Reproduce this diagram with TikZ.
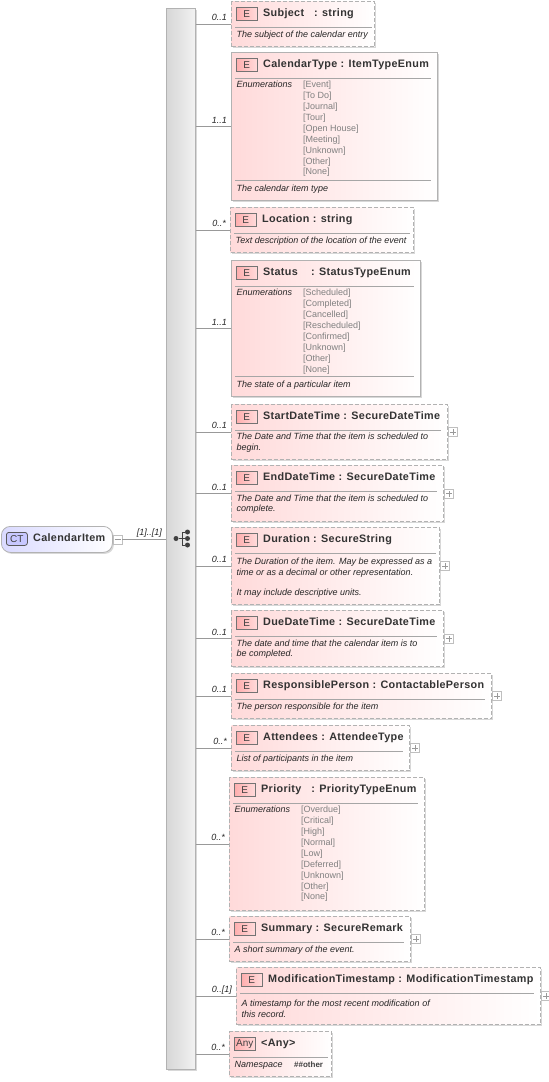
\documentclass[tikz,border=0pt]{standalone}
\usepackage{fontspec}
\setmainfont{Liberation Sans}
\newfontfamily\titlefont[LetterSpace=3]{Liberation Sans}
\usetikzlibrary{shadows}
\definecolor{elempink}{RGB}{255,218,218}
\definecolor{rootblue}{RGB}{218,218,255}
\definecolor{edgegray}{RGB}{178,178,178}
\tikzset{
  basebox/.style={anchor=north west,inner sep=0pt,left color=elempink,right color=white,
    drop shadow={shadow xshift=1.5pt,shadow yshift=-1.5pt,fill=black!30,opacity=.5}},
  reqbox/.style={basebox,draw=edgegray,line width=1.3pt},
  optbox/.style={basebox,draw=edgegray,line width=1.3pt,dash pattern=on 4pt off 2pt},
  badge/.style={anchor=north west,draw=black!55,left color=red!32,right color=red!14,inner sep=0pt,
    minimum width=21pt,minimum height=13pt,font=\fontsize{10}{10}\selectfont,text=black!75},
  elemtitle/.style={anchor=base west,inner sep=0pt,font=\titlefont\fontsize{10.8}{12}\bfseries\selectfont,text=black!80},
  elemdoc/.style={anchor=north west,inner sep=0pt,align=left,font=\fontsize{9}{10.3}\itshape\selectfont,text=black!85},
  enumlist/.style={anchor=north west,inner sep=0pt,align=left,font=\fontsize{9}{10.9}\selectfont,text=black!50},
  occur/.style={anchor=base east,inner sep=0pt,font=\fontsize{9}{10}\itshape\selectfont,text=black!85},
  conn/.style={draw=black!40,line width=.8pt},
  rulegray/.style={draw=black!35,line width=.9pt},
  plusbox/.style={draw=black!25,line width=.6pt,fill=white,inner sep=0pt,minimum size=9pt,anchor=west,
    path picture={\draw[black!40,line width=.6pt]
      ([xshift=-3pt]path picture bounding box.center) -- ([xshift=3pt]path picture bounding box.center)
      ([yshift=-3pt]path picture bounding box.center) -- ([yshift=3pt]path picture bounding box.center);}},
  minusbox/.style={draw=black!25,line width=.6pt,fill=white,inner sep=0pt,minimum size=9pt,anchor=west,
    path picture={\draw[black!40,line width=.6pt]
      ([xshift=-3pt]path picture bounding box.center) -- ([xshift=3pt]path picture bounding box.center);}},
  seqdot/.style={circle,fill=black!75,inner sep=0pt,minimum size=5pt},
}
\newcommand{\elemhead}[4][7]{%
  \node[badge] (#2badge) at ([shift={(5,6)}]#2.north west) {#3};
  \node[elemtitle] (#2title) at ([shift={(32,15)}]#2.north west) {#4};
  \draw[rulegray] ([shift={(4,26)}]#2.north west) -- ([shift={(-#1,26)}]#2.north east);
}
\newcommand{\elemdesc}[3]{\node[elemdoc] (#1doc) at ([shift={(5.5,#2)}]#1.north west) {#3};}
\newcommand{\elemenum}[2]{%
  \node[elemdoc] (#1enumhead) at ([shift={(5.5,29)}]#1.north west) {Enumerations};
  \node[enumlist] (#1enum) at ([shift={(72,29)}]#1.north west) {#2};
}
\newcommand{\elemrule}[2]{\draw[rulegray] ([shift={(4,#2)}]#1.north west) -- ([shift={(-7,#2)}]#1.north east);}
\begin{document}
\begin{tikzpicture}[x=1pt,y=-1pt]
  \useasboundingbox (0,0) rectangle (549,1082);
  % sequence bar and root
  \node[anchor=north west,draw=black!30,line width=.8pt,left color=black!16,right color=black!5,inner sep=0pt,
    minimum width=29pt,minimum height=1061pt,
    drop shadow={shadow xshift=1.5pt,shadow yshift=-1.5pt,fill=black!30,opacity=.5}] (seqbar) at (166,8) {};
  \node[anchor=north west,draw=black!30,line width=.8pt,rounded corners=9pt,left color=rootblue,right color=white,
    inner sep=0pt,minimum width=111pt,minimum height=26pt,
    drop shadow={shadow xshift=1.5pt,shadow yshift=-1.5pt,fill=black!30,opacity=.5}] (root) at (1,526) {};
  \node[anchor=north west,draw=black!65,line width=.8pt,rounded corners=2.5pt,fill=rootblue!75!blue!60!white,inner sep=0pt,
    minimum width=21pt,minimum height=13pt,font=\fontsize{10}{10}\selectfont,text=black!75] (rootbadge) at (6,532) {CT};
  \node[elemtitle] (roottitle) at (33,541.5) {CalendarItem};
  \node[minusbox] (rootminus) at (root.east) {};
  \draw[conn] (rootminus.east) -- (rootminus.east -| seqbar.west);
  \node[occur] (rootocc) at (162,535.5) {[1]..[1]};
  % sequence icon
  \node[seqdot] (seqstart) at (176,538.5) {};
  \node[seqdot] (seqa) at (187.5,532) {};
  \node[seqdot] (seqb) at (187.5,538.5) {};
  \node[seqdot] (seqc) at (187.5,545) {};
  \draw[black!75,line width=.9pt] (seqstart) -- (seqb) (seqa) -| (182.5,538.5) |- (seqc);

  % element boxes
  \node[optbox,minimum width=143pt,minimum height=45pt] (subject) at (231,1) {};
  \node[reqbox,minimum width=206pt,minimum height=148pt] (caltype) at (231,52) {};
  \node[optbox,minimum width=183pt,minimum height=45pt] (location) at (230,207) {};
  \node[reqbox,minimum width=189pt,minimum height=136pt] (status) at (231,260) {};
  \node[optbox,minimum width=216pt,minimum height=55pt] (startdt) at (231,404) {};
  \node[optbox,minimum width=212pt,minimum height=56pt] (enddt) at (231,465) {};
  \node[optbox,minimum width=208pt,minimum height=77pt] (duration) at (231,527) {};
  \node[optbox,minimum width=212pt,minimum height=56pt] (duedt) at (231,610) {};
  \node[optbox,minimum width=260pt,minimum height=45pt] (respperson) at (231,673) {};
  \node[optbox,minimum width=178pt,minimum height=45pt] (attendees) at (231,725) {};
  \node[optbox,minimum width=195pt,minimum height=133pt] (priority) at (229,777) {};
  \node[optbox,minimum width=181pt,minimum height=45pt] (summary) at (229,916) {};
  \node[optbox,minimum width=304pt,minimum height=57pt] (modts) at (236,967) {};
  \node[optbox,minimum width=102pt,minimum height=45pt] (anyelem) at (229,1031) {};

  \foreach \n/\o in {subject/0..1,caltype/1..1,location/0..*,status/1..1,startdt/0..1,enddt/0..1,
      duration/0..1,duedt/0..1,respperson/0..1,attendees/0..*,priority/0..*,summary/0..*,modts/{0..[1]},anyelem/0..*}{
    \draw[conn] (seqbar.east |- \n.west) -- (\n.west);
    \node[occur] (occ\n) at ([shift={(-4,-3.5)}]\n.west) {\o};
  }
  \foreach \n in {startdt,enddt,duration,duedt,respperson,attendees,summary,modts}{
    \node[plusbox] (plus\n) at (\n.east) {};
  }

  \elemhead[3]{subject}{E}{Subject\ \ \ : string}
  \elemdesc{subject}{30}{The subject of the calendar entry}
  \elemhead{caltype}{E}{CalendarType : ItemTypeEnum}
  \elemenum{caltype}{[Event]\\\relax [To Do]\\\relax [Journal]\\\relax [Tour]\\\relax [Open House]\\\relax [Meeting]\\\relax [Unknown]\\\relax [Other]\\\relax [None]}
  \elemrule{caltype}{128}
  \elemdesc{caltype}{132.5}{The calendar item type}
  \elemhead[4]{location}{E}{Location : string}
  \elemdesc{location}{30}{Text description of the location of the event}
  \elemhead{status}{E}{Status\ \ \ \ : StatusTypeEnum}
  \elemenum{status}{[Scheduled]\\\relax [Completed]\\\relax [Cancelled]\\\relax [Rescheduled]\\\relax [Confirmed]\\\relax [Unknown]\\\relax [Other]\\\relax [None]}
  \elemrule{status}{116}
  \elemdesc{status}{120.5}{The state of a particular item}
  \elemhead{startdt}{E}{StartDateTime : SecureDateTime}
  \elemdesc{startdt}{29}{The Date and Time that the item is scheduled to\\begin.}
  \elemhead{enddt}{E}{EndDateTime : SecureDateTime}
  \elemdesc{enddt}{29.5}{The Date and Time that the item is scheduled to\\complete.}
  \elemhead[4]{duration}{E}{Duration : SecureString}
  \elemdesc{duration}{31}{The Duration of the item. May be expressed as a\\time or as a decimal or other representation.\\[10pt]It may include descriptive units.}
  \elemhead{duedt}{E}{DueDateTime : SecureDateTime}
  \elemdesc{duedt}{29.5}{The date and time that the calendar item is to\\be completed.}
  \elemhead{respperson}{E}{ResponsiblePerson : ContactablePerson}
  \elemdesc{respperson}{30}{The person responsible for the item}
  \elemhead{attendees}{E}{Attendees : AttendeeType}
  \elemdesc{attendees}{30}{List of participants in the item}
  \elemhead{priority}{E}{Priority\ \ \ : PriorityTypeEnum}
  \elemenum{priority}{[Overdue]\\\relax [Critical]\\\relax [High]\\\relax [Normal]\\\relax [Low]\\\relax [Deferred]\\\relax [Unknown]\\\relax [Other]\\\relax [None]}
  \elemhead{summary}{E}{Summary : SecureRemark}
  \elemdesc{summary}{30}{A short summary of the event.}
  \elemhead{modts}{E}{ModificationTimestamp : ModificationTimestamp}
  \elemdesc{modts}{33}{A timestamp for the most recent modification of\\this record.}
  \elemhead[4]{anyelem}{Any}{<Any>}
  \node[elemdoc] (anyelemdoc) at ([shift={(5.5,30)}]anyelem.north west) {Namespace};
  \node[anchor=north west,inner sep=0pt,font=\fontsize{8}{10}\bfseries\selectfont,text=black!75] (anyelemns) at ([shift={(65,30)}]anyelem.north west) {\#\#other};
\end{tikzpicture}
\end{document}
